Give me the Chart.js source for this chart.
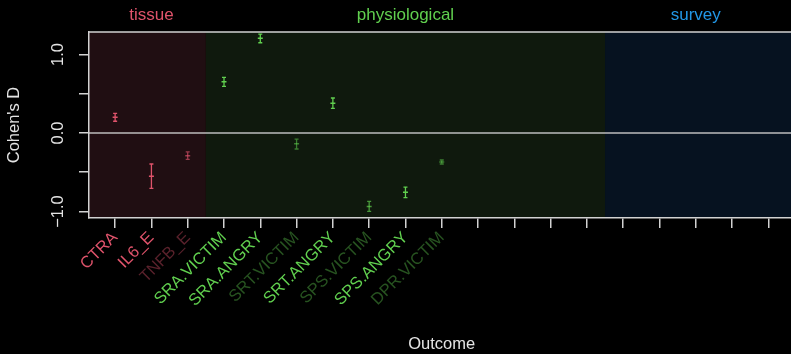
<!DOCTYPE html>
<html>
<head>
<meta charset="utf-8">
<script src="https://cdn.jsdelivr.net/npm/chart.js@4.4.0/dist/chart.umd.min.js"></script>
<style>
  html, body { margin: 0; padding: 0; background: #000; overflow: hidden; }
</style>
</head>
<body>
<canvas id="effects" width="800" height="354"></canvas>
<script>
// outcomes, in plotting order (slots 11-19 have no estimate)
const outcomes = ['CTRA', 'IL6_E', 'TNFB_E', 'SRA.VICTIM', 'SRA.ANGRY', 'SRT.VICTIM', 'SRT.ANGRY', 'SPS.VICTIM', 'SPS.ANGRY', 'DPR.VICTIM'];
const outcomeSlots = 19;
const outcomeDomain = [0, 0, 0, 1, 1, 1, 1, 1, 1, 1];
const estimates = [0.20, -0.55, -0.29, 0.653, 1.206, -0.136, 0.378, -0.938, -0.756, -0.37];
const lower = [0.15, -0.705, -0.335, 0.595, 1.15, -0.204, 0.315, -0.998, -0.824, -0.395];
const upper = [0.25, -0.395, -0.24, 0.71, 1.26, -0.077, 0.446, -0.87, -0.69, -0.344];
const labelAlpha = [1, 1, 0.4, 1, 1, 0.4, 1, 0.4, 1, 0.4];
const pointAlpha = [1, 1, 0.65, 1, 1, 0.55, 1, 0.7, 1, 0.55];

const domains = ['tissue', 'physiological', 'survey'];
const domainStart = [1, 4, 15];
const domainEnd = [3, 14, 19];
const domainColors = ['#DF536B', '#61D04F', '#2297E6'];
const domainFill = ['#200e12', '#0f190d', '#061220'];

const yTicks = [-1, -0.5, 0, 0.5, 1];
const yTickLabels = ['\u22121.0', '', '0.0', '', '1.0'];

const FONT = "'Liberation Sans', Arial, sans-serif";
const AXIS_COL = '#d2d2d2';
const TEXT_COL = '#e4e4e4';

function withAlpha(hex, a) {
  const n = parseInt(hex.slice(1), 16);
  return `rgba(${(n >> 16) & 255},${(n >> 8) & 255},${n & 255},${a})`;
}

const colorFor = (i, alphas) => withAlpha(domainColors[outcomeDomain[i]], alphas[i]);

// shaded domain panels + zero line, behind everything
const panels = {
  id: 'panels',
  beforeDraw(chart) {
    const { ctx, chartArea: a, scales: { x, y } } = chart;
    ctx.save();
    domains.forEach((d, k) => {
      // outer panels run to the box edges
      const x0 = k === 0 ? a.left : x.getPixelForValue(domainStart[k] - 0.5);
      const x1 = k === domains.length - 1 ? a.right : x.getPixelForValue(domainEnd[k] + 0.5);
      ctx.fillStyle = domainFill[k];
      ctx.fillRect(x0, a.top, x1 - x0, a.bottom - a.top);
    });
    const y0 = y.getPixelForValue(0);
    ctx.strokeStyle = '#bdbdbd';
    ctx.lineWidth = 1.5;
    ctx.beginPath();
    ctx.moveTo(a.left, y0);
    ctx.lineTo(a.right, y0);
    ctx.stroke();
    ctx.restore();
  }
};

// error bars with caps
const errorBars = {
  id: 'errorBars',
  afterDatasetsDraw(chart) {
    const { ctx, scales: { x, y } } = chart;
    ctx.save();
    ctx.lineWidth = 1.3;
    estimates.forEach((v, i) => {
      const px = x.getPixelForValue(i + 1);
      const lo = y.getPixelForValue(lower[i]);
      const hi = y.getPixelForValue(upper[i]);
      ctx.strokeStyle = colorFor(i, pointAlpha);
      ctx.beginPath();
      ctx.moveTo(px, lo); ctx.lineTo(px, hi);
      ctx.moveTo(px - 2, lo); ctx.lineTo(px + 2, lo);
      ctx.moveTo(px - 2, hi); ctx.lineTo(px + 2, hi);
      ctx.stroke();
    });
    ctx.restore();
  }
};

// box top, rotated y labels, domain headings
const decorations = {
  id: 'decorations',
  afterDraw(chart) {
    const { ctx, chartArea: a, scales: { x, y } } = chart;
    ctx.save();
    ctx.strokeStyle = AXIS_COL;
    ctx.lineWidth = 1.5;
    ctx.beginPath();
    ctx.moveTo(a.left, a.top);
    ctx.lineTo(a.right, a.top);
    ctx.stroke();

    ctx.font = `16.5px ${FONT}`;
    ctx.fillStyle = TEXT_COL;
    ctx.textAlign = 'center';
    ctx.textBaseline = 'middle';
    yTicks.forEach((t, i) => {
      if (!yTickLabels[i]) return;
      ctx.save();
      ctx.translate(58, y.getPixelForValue(t));
      ctx.rotate(-Math.PI / 2);
      ctx.fillText(yTickLabels[i], 0, 0);
      ctx.restore();
    });

    ctx.font = `17px ${FONT}`;
    domains.forEach((d, k) => {
      ctx.fillStyle = domainColors[k];
      ctx.fillText(d, x.getPixelForValue((domainStart[k] + domainEnd[k]) / 2), 15);
    });
    ctx.restore();
  }
};

const slots = Array.from({ length: outcomeSlots }, (_, i) => i + 1);

new Chart(document.getElementById('effects').getContext('2d'), {
  type: 'scatter',
  data: {
    datasets: [{
      data: estimates.map((v, i) => ({ x: i + 1, y: v })),
      pointStyle: 'line',
      pointRadius: 2.5,
      borderWidth: 1.5,
      pointBorderColor: estimates.map((v, i) => colorFor(i, pointAlpha)),
      pointBackgroundColor: estimates.map((v, i) => colorFor(i, pointAlpha))
    }]
  },
  options: {
    responsive: false,
    animation: false,
    events: [],
    layout: { padding: { top: 32, right: 3, left: 0, bottom: 0 } },
    plugins: { legend: { display: false }, tooltip: { enabled: false } },
    scales: {
      x: {
        type: 'linear',
        min: 0.28,
        max: 19.72,
        afterBuildTicks: s => { s.ticks = slots.map(v => ({ value: v })); },
        afterFit: s => { s.height = 136; },
        ticks: {
          autoSkip: false,
          minRotation: 45,
          maxRotation: 45,
          padding: 0,
          font: { family: FONT, size: 16.5 },
          color: c => c.index < outcomes.length ? colorFor(c.index, labelAlpha) : TEXT_COL,
          callback: v => outcomes[v - 1] || ''
        },
        grid: { drawOnChartArea: false, drawTicks: true, tickLength: 10, color: AXIS_COL, lineWidth: 1.5 },
        border: { display: true, color: AXIS_COL, width: 1.5 },
        title: { display: true, text: 'Outcome', color: TEXT_COL, font: { family: FONT, size: 16.5 }, padding: 0 }
      },
      y: {
        type: 'linear',
        min: -1.083,
        max: 1.287,
        afterBuildTicks: s => { s.ticks = yTicks.map(v => ({ value: v })); },
        afterFit: s => { s.width = 89; },
        ticks: { callback: () => '', padding: 0 },
        grid: { drawOnChartArea: false, drawTicks: true, tickLength: 10, color: AXIS_COL, lineWidth: 1.5 },
        border: { display: true, color: AXIS_COL, width: 1.5 },
        title: { display: true, text: "Cohen's D", color: TEXT_COL, font: { family: FONT, size: 16.5 }, padding: { top: 5, bottom: 0 } }
      }
    }
  },
  plugins: [panels, errorBars, decorations]
});
</script>
</body>
</html>
